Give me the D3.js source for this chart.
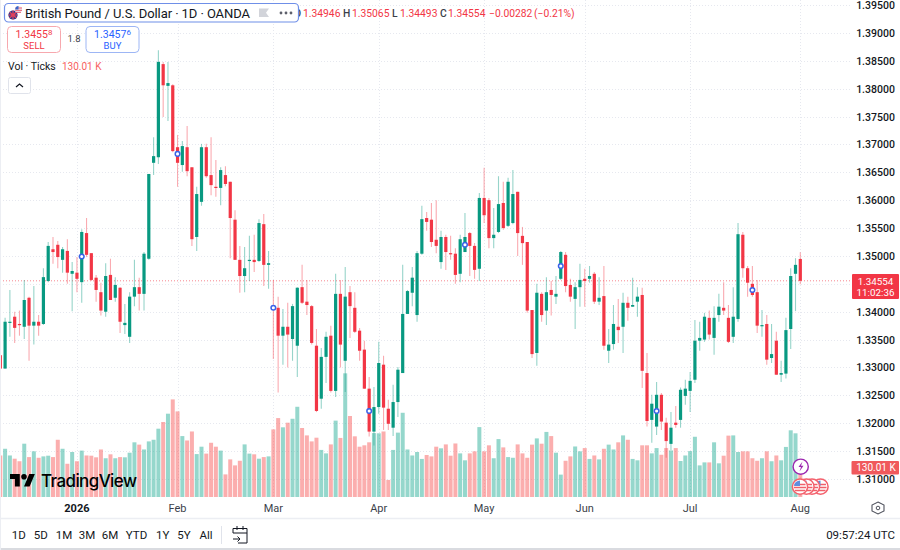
<!DOCTYPE html>
<html>
<head>
    <script src="https://d3js.org/d3.v7.min.js"></script>
    <style>
        body { margin: 0; background: #fff; }
        text { font-family: Roboto, "Noto Sans", sans-serif; }
    </style>
</head>
<body>
    <svg width="900" height="550"></svg>
    <script>
        // one entry per trading day
        var opens = [
            1.3322,1.3298,1.3380,1.3391,1.3378,1.3373,1.3425,1.3375,1.3382,1.3378,
            1.3455,1.3512,1.3520,1.3493,1.3509,1.3468,1.3470,1.3453,1.3541,1.3505,
            1.3461,1.3435,1.3400,1.3466,1.3425,1.3443,1.3376,1.3355,1.3427,1.3444,
            1.3432,1.3495,1.3667,1.3677,1.3844,1.3805,1.3806,1.3695,1.3663,1.3695,
            1.3659,1.3534,1.3597,1.3695,1.3645,1.3624,1.3622,1.3645,1.3633,1.3565,
            1.3493,1.3464,1.3491,1.3493,1.3491,1.3557,1.3484,1.3410,1.3407,1.3357,
            1.3373,1.3351,1.3339,1.3444,1.3418,1.3410,1.3339,1.3244,1.3319,1.3357,
            1.3258,1.3432,1.3312,1.3435,1.3407,1.3366,1.3332,1.3262,1.3185,1.3229,
            1.3305,1.3226,1.3192,1.3238,1.3290,1.3396,1.3434,1.3394,1.3504,1.3568,
            1.3565,1.3529,1.3489,1.3534,1.3505,1.3504,1.3468,1.3507,1.3541,1.3518,
            1.3477,1.3604,1.3600,1.3532,1.3543,1.3595,1.3554,1.3559,1.3615,1.3536,
            1.3525,1.3403,1.3326,1.3432,1.3402,1.3439,1.3427,1.3459,1.3502,1.3448,
            1.3423,1.3444,1.3459,1.3459,1.3468,1.3418,1.3428,1.3330,1.3342,1.3373,
            1.3373,1.3416,1.3409,1.3418,1.3430,1.3290,1.3206,1.3194,1.3251,1.3201,
            1.3163,1.3201,1.3206,1.3249,1.3258,1.3278,1.3348,1.3350,1.3389,1.3353,
            1.3394,1.3407,1.3389,1.3355,1.3387,1.3538,1.3478,1.3450,1.3435,1.3375,
            1.3378,1.3317,1.3348,1.3287,1.3289,1.3369,1.3468,1.34946];
        var highs = [
            1.3358,1.3389,1.3439,1.3400,1.3402,1.3457,1.3427,1.3446,1.3394,1.3478,
            1.3525,1.3534,1.3527,1.3516,1.3530,1.3489,1.3498,1.3548,1.3568,1.3505,
            1.3466,1.3452,1.3487,1.3495,1.3462,1.3444,1.3414,1.3435,1.3493,1.3461,
            1.3507,1.3647,1.3713,1.3869,1.3848,1.3848,1.3808,1.3717,1.3706,1.3733,
            1.3659,1.3624,1.3701,1.3701,1.3713,1.3672,1.3659,1.3661,1.3633,1.3582,
            1.3518,1.3516,1.3536,1.3538,1.3566,1.3575,1.3509,1.3457,1.3427,1.3405,
            1.3416,1.3414,1.3444,1.3484,1.3457,1.3412,1.3369,1.3335,1.3364,1.3375,
            1.3468,1.3457,1.3480,1.3446,1.3435,1.3371,1.3348,1.3283,1.3265,1.3346,
            1.3321,1.3242,1.3269,1.3301,1.3484,1.3439,1.3480,1.3509,1.3590,1.3579,
            1.3595,1.3600,1.3545,1.3538,1.3536,1.3514,1.3538,1.3577,1.3543,1.3523,
            1.3613,1.3658,1.3604,1.3586,1.3643,1.3633,1.3640,1.3654,1.3615,1.3552,
            1.3525,1.3403,1.3450,1.3435,1.3462,1.3455,1.3464,1.3509,1.3507,1.3459,
            1.3453,1.3486,1.3477,1.3482,1.3471,1.3462,1.3482,1.3369,1.3412,1.3423,
            1.3434,1.3427,1.3461,1.3444,1.3443,1.3326,1.3251,1.3274,1.3254,1.3210,
            1.3220,1.3231,1.3264,1.3278,1.3292,1.3385,1.3382,1.3398,1.3402,1.3410,
            1.3432,1.3453,1.3412,1.3444,1.3559,1.3543,1.3482,1.3482,1.3457,1.3403,
            1.3394,1.3378,1.3364,1.3312,1.3389,1.3478,1.3496,1.35065];
        var lows = [
            1.3298,1.3298,1.3355,1.3344,1.3357,1.3351,1.3312,1.3341,1.3357,1.3376,
            1.3453,1.3486,1.3478,1.3470,1.3450,1.3401,1.3435,1.3416,1.3498,1.3455,
            1.3418,1.3393,1.3391,1.3421,1.3418,1.3362,1.3360,1.3344,1.3410,1.3402,
            1.3402,1.3493,1.3645,1.3665,1.3749,1.3742,1.3686,1.3624,1.3651,1.3643,
            1.3518,1.3509,1.3590,1.3640,1.3609,1.3606,1.3591,1.3625,1.3496,1.3493,
            1.3434,1.3435,1.3455,1.3471,1.3489,1.3446,1.3441,1.3315,1.3255,1.3305,
            1.3300,1.3312,1.3283,1.3414,1.3394,1.3341,1.3220,1.3226,1.3272,1.3255,
            1.3247,1.3300,1.3256,1.3353,1.3362,1.3312,1.3262,1.3176,1.3160,1.3217,
            1.3188,1.3188,1.3177,1.3211,1.3290,1.3396,1.3410,1.3382,1.3502,1.3545,
            1.3516,1.3505,1.3477,1.3475,1.3493,1.3450,1.3453,1.3507,1.3464,1.3459,
            1.3455,1.3559,1.3514,1.3514,1.3541,1.3547,1.3552,1.3557,1.3500,1.3484,
            1.3398,1.3317,1.3303,1.3382,1.3376,1.3393,1.3414,1.3457,1.3435,1.3418,
            1.3369,1.3409,1.3409,1.3452,1.3414,1.3412,1.3332,1.3308,1.3332,1.3344,
            1.3326,1.3384,1.3409,1.3391,1.3263,1.3194,1.3165,1.3179,1.3188,1.3138,
            1.3152,1.3192,1.3192,1.3233,1.3220,1.3272,1.3330,1.3346,1.3350,1.3323,
            1.3382,1.3394,1.3344,1.3344,1.3382,1.3461,1.3427,1.3427,1.3362,1.3355,
            1.3305,1.3308,1.3287,1.3274,1.3280,1.3333,1.3401,1.34493];
        var closes = [
            1.3298,1.3382,1.3382,1.3371,1.3376,1.3421,1.3375,1.3382,1.3375,1.3462,
            1.3518,1.3507,1.3498,1.3512,1.3470,1.3473,1.3459,1.3543,1.3502,1.3457,
            1.3439,1.3402,1.3464,1.3421,1.3448,1.3382,1.3380,1.3427,1.3444,1.3432,
            1.3504,1.3647,1.3679,1.3848,1.3806,1.3810,1.3688,1.3667,1.3697,1.3652,
            1.3530,1.3611,1.3695,1.3643,1.3627,1.3622,1.3654,1.3629,1.3568,1.3493,
            1.3464,1.3478,1.3493,1.3489,1.3559,1.3484,1.3487,1.3405,1.3357,1.3373,
            1.3359,1.3410,1.3443,1.3416,1.3412,1.3344,1.3222,1.3319,1.3355,1.3258,
            1.3432,1.3341,1.3427,1.3410,1.3364,1.3330,1.3262,1.3185,1.3229,1.3308,
            1.3228,1.3199,1.3238,1.3296,1.3396,1.3437,1.3461,1.3505,1.3566,1.3561,
            1.3525,1.3518,1.3534,1.3507,1.3504,1.3466,1.3530,1.3534,1.3518,1.3475,
            1.3604,1.3573,1.3532,1.3538,1.3593,1.3550,1.3633,1.3611,1.3541,1.3523,
            1.3402,1.3324,1.3434,1.3394,1.3435,1.3430,1.3432,1.3507,1.3446,1.3427,
            1.3444,1.3457,1.3455,1.3464,1.3418,1.3425,1.3339,1.3341,1.3378,1.3367,
            1.3416,1.3407,1.3412,1.3427,1.3294,1.3204,1.3235,1.3251,1.3203,1.3168,
            1.3192,1.3197,1.3260,1.3262,1.3276,1.3348,1.3353,1.3391,1.3359,1.3389,
            1.3409,1.3402,1.3346,1.3391,1.3539,1.3478,1.3452,1.3430,1.3375,1.3376,
            1.3314,1.3324,1.3287,1.3290,1.3367,1.3464,1.3484,1.34554];
        // volume in thousands of ticks
        var volumes = [
            180,209,180,166,155,231,173,198,170,176,
            179,173,248,209,144,195,155,201,180,179,
            172,206,168,185,168,173,172,192,237,227,
            206,241,248,296,325,361,423,371,264,245,
            284,186,218,188,235,218,201,98,163,137,
            157,228,188,185,166,173,176,293,342,302,
            322,339,391,299,267,241,257,204,189,228,
            331,256,536,351,263,218,224,237,277,276,
            284,74,204,279,365,206,180,195,165,182,
            176,218,211,228,179,232,189,159,189,198,
            303,198,224,168,251,215,173,170,228,189,
            170,227,254,231,282,264,192,97,157,176,
            219,198,212,165,180,163,209,227,206,237,
            267,248,165,159,224,224,189,212,183,212,
            202,212,156,180,199,261,137,150,150,237,
            146,179,266,267,195,198,198,168,157,168,
            198,155,180,159,217,289,276,130.01];

        var priceTicks = [1.31,1.315,1.32,1.325,1.33,1.335,1.34,1.35,1.355,1.36,1.365,1.37,1.375,1.38,1.385,1.39,1.395];
        var gridPrices = priceTicks.concat([1.345]);
        var monthIdx = [16,37,57,79,101,122,144,167];
        var monthLabels = ["2026","Feb","Mar","Apr","May","Jun","Jul","Aug"];
        var eventIdx = [17,37,57,77,97,117,137,157];
        var eventPrices = [1.3499,1.3683,1.3407,1.3222,1.3520,1.3482,1.3222,1.3439];
        var ranges = ["1D","5D","1M","3M","6M","YTD","1Y","5Y","All"];
        var rangeX = [18.7,40.7,64,87,110,136.5,162.7,184,206];
        var ohlcLabels = ["O","H","L","C"];
        var ohlcValues = ["1.34946","1.35065","1.34493","1.34554"];
        var lastPrice = 1.34554;
        var lastVolume = 130.01;

        var upColor = "#089981", downColor = "#f23645";
        var plotRight = 851;

        var svg = d3.select("svg");
        var x = d3.scaleLinear().domain([0, 167]).range([0.3, 800.3]);
        var y = d3.scaleLinear().domain([1.31, 1.395]).range([479, 5]);
        var yVol = d3.scaleLinear().domain([0, lastVolume]).range([497, 467]);
        var days = d3.range(opens.length);
        function isUp(i) { return closes[i] >= opens[i]; }

        svg.append("defs").append("clipPath").attr("id", "plot")
            .append("rect").attr("width", plotRight).attr("height", 497);

        // grid
        var grid = svg.append("g").attr("stroke", "#e6e8ef").attr("stroke-dasharray", "1,2");
        grid.selectAll(".h").data(gridPrices).enter().append("line")
            .attr("x1", 0).attr("x2", plotRight)
            .attr("y1", function(d) { return Math.round(y(d)) + 0.5; })
            .attr("y2", function(d) { return Math.round(y(d)) + 0.5; });
        grid.selectAll(".v").data(monthIdx).enter().append("line")
            .attr("y1", 0).attr("y2", 497)
            .attr("x1", function(d) { return Math.round(x(d)) + 0.5; })
            .attr("x2", function(d) { return Math.round(x(d)) + 0.5; });

        var plot = svg.append("g").attr("clip-path", "url(#plot)");

        // volume
        plot.append("g").selectAll("rect").data(days).enter().append("rect")
            .attr("x", function(i) { return x(i) - 2; })
            .attr("width", 4)
            .attr("y", function(i) { return yVol(volumes[i]); })
            .attr("height", function(i) { return 497 - yVol(volumes[i]); })
            .attr("fill", function(i) { return isUp(i) ? "#22ab94" : "#f75555"; })
            .attr("fill-opacity", 0.48);

        // last price line
        plot.append("line")
            .attr("x1", 0).attr("x2", plotRight)
            .attr("y1", y(lastPrice)).attr("y2", y(lastPrice))
            .attr("stroke", downColor).attr("stroke-opacity", 0.6).attr("stroke-dasharray", "1,2");

        // candles
        var candle = plot.append("g").selectAll("g").data(days).enter().append("g");
        candle.append("line")
            .attr("x1", function(i) { return x(i); })
            .attr("x2", function(i) { return x(i); })
            .attr("y1", function(i) { return y(highs[i]); })
            .attr("y2", function(i) { return y(lows[i]); })
            .attr("stroke", function(i) { return isUp(i) ? upColor : downColor; })
            .attr("stroke-opacity", 0.42)
            .attr("stroke-width", 1.1);
        candle.append("rect")
            .attr("x", function(i) { return x(i) - 1.6; })
            .attr("width", 3.2)
            .attr("y", function(i) { return y(Math.max(opens[i], closes[i])); })
            .attr("height", function(i) { return Math.max(1.2, Math.abs(y(opens[i]) - y(closes[i]))); })
            .attr("fill", function(i) { return isUp(i) ? upColor : downColor; });

        // blue event dots
        plot.append("g").selectAll("circle").data(eventIdx).enter().append("circle")
            .attr("cx", function(d) { return x(d); })
            .attr("cy", function(d, i) { return y(eventPrices[i]); })
            .attr("r", 2.3)
            .attr("fill", "#fff").attr("stroke", "#3962e8").attr("stroke-width", 1.5);

        // price axis
        svg.append("g").selectAll("text").data(priceTicks).enter().append("text")
            .attr("x", 875.5).attr("y", function(d) { return y(d) + 4; })
            .attr("text-anchor", "middle").attr("font-size", 10.5).attr("font-weight", 500).attr("fill", "#131722")
            .text(function(d) { return d3.format(".5f")(d); });

        // time axis
        svg.append("g").selectAll("text").data(monthIdx).enter().append("text")
            .attr("x", function(d) { return x(d); }).attr("y", 512)
            .attr("text-anchor", "middle").attr("font-size", 11)
            .attr("font-weight", function(d, i) { return i === 0 ? 700 : 400; })
            .attr("fill", function(d, i) { return i === 0 ? "#131722" : "#3b3f4a"; })
            .text(function(d, i) { return monthLabels[i]; });

        // last price and volume tags
        svg.append("rect").attr("x", 852).attr("y", 274).attr("width", 47).attr("height", 25).attr("rx", 1).attr("fill", downColor);
        svg.append("text").attr("x", 875.5).attr("y", 285).attr("text-anchor", "middle").attr("font-size", 9.8).attr("fill", "#fff").text("1.34554");
        svg.append("text").attr("x", 875.5).attr("y", 296).attr("text-anchor", "middle").attr("font-size", 9.8).attr("fill", "#fff").text("11:02:36");
        svg.append("rect").attr("x", 851.5).attr("y", 461).attr("width", 47.5).attr("height", 13.5).attr("rx", 1).attr("fill", "#f0595c");
        svg.append("text").attr("x", 876).attr("y", 471).attr("text-anchor", "middle").attr("font-size", 10).attr("fill", "#fff").text("130.01 K");

        // OHLC readout, the O sits partly under the title pill
        var ohlcX = [294, 343, 392, 440], ohlcValueX = [303, 352, 400, 448];
        var ohlc = svg.append("g").attr("font-size", 10.3);
        ohlc.selectAll(".lab").data(ohlcLabels).enter().append("text")
            .attr("x", function(d, i) { return ohlcX[i]; }).attr("y", 17)
            .attr("font-weight", 500).attr("fill", "#3b3f4a").text(function(d) { return d; });
        ohlc.selectAll(".val").data(ohlcValues).enter().append("text")
            .attr("x", function(d, i) { return ohlcValueX[i]; }).attr("y", 17)
            .attr("fill", downColor).text(function(d) { return d; });
        ohlc.append("text").attr("x", 489).attr("y", 17).attr("fill", downColor).text("\u22120.00282");
        ohlc.append("text").attr("x", 534).attr("y", 17).attr("fill", downColor).text("(\u22120.21%)");

        // header
        svg.append("rect").attr("x", 4.5).attr("y", 3.5).attr("width", 294).attr("height", 18.5).attr("rx", 4)
            .attr("fill", "#fff").attr("stroke", "#6f8fe8").attr("stroke-width", 1.2);
        svg.append("circle").attr("cx", 13).attr("cy", 15).attr("r", 4.6).attr("fill", "#2a3f8f");
        svg.append("path").attr("d", "M9.6 12 L16.4 18 M16.4 12 L9.6 18 M13 10.4 V19.6 M8.4 15 H17.6").attr("stroke", "#e8425a").attr("stroke-width", 1.2);
        svg.append("circle").attr("cx", 18.5).attr("cy", 9.5).attr("r", 3.6).attr("fill", "#f0f0f4");
        svg.append("path").attr("d", "M15.5 8 H22 M15.2 10.3 H22 M16 12.3 H21").attr("stroke", "#e8425a").attr("stroke-width", 0.9);
        svg.append("path").attr("d", "M15.2 9.5 A3.6 3.6 0 0 1 18.5 5.9 V9.5 Z").attr("fill", "#3a66c8");
        svg.append("text").attr("x", 25).attr("y", 18).attr("font-size", 13).attr("fill", "#131722").attr("textLength", 225)
            .text("British Pound / U.S. Dollar \u00b7 1D \u00b7 OANDA");
        svg.append("path").attr("d", "M259 8.5 H269 L266 12.8 L269 17 H259 Z").attr("fill", "#d2d4da");
        svg.selectAll(".dot").data([281, 286, 291]).enter().append("circle")
            .attr("cx", function(d) { return d; }).attr("cy", 13).attr("r", 1.4).attr("fill", "#5d606b");

        // sell / buy
        function tradeBox(left, color, border, big, small, label) {
            svg.append("rect").attr("x", left + 0.5).attr("y", 26.5).attr("width", 53).attr("height", 26).attr("rx", 4)
                .attr("fill", "#fff").attr("stroke", border);
            var t = svg.append("text").attr("x", left + 27).attr("y", 37.5).attr("text-anchor", "middle")
                .attr("font-size", 10.5).attr("fill", color);
            t.append("tspan").text(big);
            t.append("tspan").attr("font-size", 8).attr("dy", -2.5).text(small);
            svg.append("text").attr("x", left + 27).attr("y", 48.5).attr("text-anchor", "middle")
                .attr("font-size", 9.5).attr("fill", color).text(label);
        }
        tradeBox(7, downColor, "#f7a8ae", "1.3455", "8", "SELL");
        tradeBox(85.5, "#2962ff", "#9db6f5", "1.3457", "6", "BUY");
        svg.append("text").attr("x", 74).attr("y", 42).attr("text-anchor", "middle").attr("font-size", 9.5).attr("fill", "#3b3f4a").text("1.8");

        // volume legend
        svg.append("text").attr("x", 8).attr("y", 69.5).attr("font-size", 10.5).attr("fill", "#131722").text("Vol \u00b7 Ticks");
        svg.append("text").attr("x", 62).attr("y", 69.5).attr("font-size", 10).attr("fill", "#f7625f").text("130.01 K");
        svg.append("rect").attr("x", 8.5).attr("y", 77.5).attr("width", 22).attr("height", 16).attr("rx", 2)
            .attr("fill", "#fff").attr("stroke", "#e0e3eb");
        svg.append("path").attr("d", "M16 87 L19.5 84 L23 87").attr("fill", "none").attr("stroke", "#131722").attr("stroke-width", 1.2);

        // logo
        var logo = svg.append("g").attr("transform", "translate(10,471.2) scale(0.7)").attr("fill", "#000");
        logo.append("path").attr("d", "M14 22H7V11H0V4h14v18zM28 22h-8l7.5-18h8L28 22z");
        logo.append("circle").attr("cx", 20).attr("cy", 8).attr("r", 4);
        svg.append("text").attr("x", 41).attr("y", 487).attr("font-family", "Inter").style("font-family", "Inter")
            .attr("font-size", 17).attr("font-weight", 500)
            .attr("fill", "#000").attr("textLength", 96).text("TradingView");

        // session icons by the last bar
        svg.append("circle").attr("cx", 800.7).attr("cy", 466.7).attr("r", 7.6).attr("fill", "#fff").attr("stroke", "#9c27b0").attr("stroke-width", 1.4);
        svg.append("path").attr("d", "M802.5 461.5 L798.5 467 H801 L799.5 471.5 L803.5 465.8 H801 Z").attr("fill", "#9c27b0");
        svg.selectAll(".flag").data([820.5, 812, 806.5, 800]).enter().append("g").each(function(d) {
            var g = d3.select(this);
            g.append("circle").attr("cx", d).attr("cy", 486.7).attr("r", 7.6).attr("fill", "#fff").attr("stroke", "#f4606c").attr("stroke-width", 1.5);
            g.append("path").attr("d", "M" + (d - 5.5) + " 484.5 H" + (d + 5.5) + " M" + (d - 6) + " 487.5 H" + (d + 6) + " M" + (d - 5) + " 490.5 H" + (d + 5))
                .attr("stroke", "#f0606a").attr("stroke-width", 1.4);
            g.append("path").attr("d", "M" + (d - 6) + " 486 A6 6 0 0 1 " + d + " 480.5 V486 Z").attr("fill", "#5d8ee0");
        });

        // settings icon in the axis corner
        svg.append("path").attr("d", "M878 502 L884 505 V511 L878 514 L872 511 V505 Z").attr("fill", "none").attr("stroke", "#50535e").attr("stroke-width", 1.1);
        svg.append("circle").attr("cx", 878).attr("cy", 508).attr("r", 1.8).attr("fill", "none").attr("stroke", "#50535e");

        // bottom toolbar
        svg.append("line").attr("x1", 0).attr("x2", 900).attr("y1", 518.5).attr("y2", 518.5).attr("stroke", "#eceef3").attr("stroke-width", 1.5);
        svg.append("line").attr("x1", 0).attr("x2", 900).attr("y1", 549).attr("y2", 549).attr("stroke", "#d9dbe0").attr("stroke-width", 2);
        svg.append("line").attr("x1", 0.5).attr("x2", 0.5).attr("y1", 0).attr("y2", 550).attr("stroke", "#eceef3");
        svg.append("g").selectAll("text").data(ranges).enter().append("text")
            .attr("x", function(d, i) { return rangeX[i]; }).attr("y", 539)
            .attr("text-anchor", "middle").attr("font-size", 11.5).attr("fill", "#131722")
            .text(function(d) { return d; });
        svg.append("line").attr("x1", 221.5).attr("x2", 221.5).attr("y1", 526).attr("y2", 544).attr("stroke", "#e0e3eb");
        svg.append("path").attr("d", "M233 533 V528.5 H247 V543 H238 M233 533 H247 M237 526 V530 M243 526 V530 M233 539 H240 M237.5 536.5 L240 539 L237.5 541.5")
            .attr("fill", "none").attr("stroke", "#131722").attr("stroke-width", 1);
        svg.append("text").attr("x", 895).attr("y", 539).attr("text-anchor", "end").attr("font-size", 11.5).attr("fill", "#131722").text("09:57:24 UTC");
    </script>
</body>
</html>
